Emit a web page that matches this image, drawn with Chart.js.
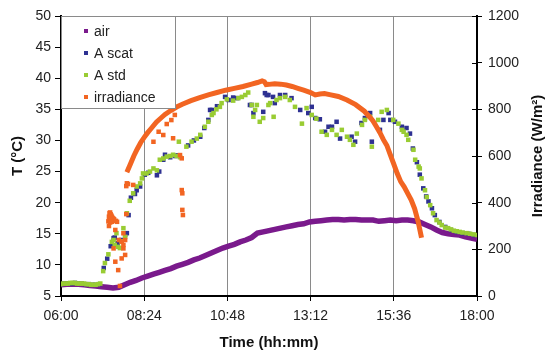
<!DOCTYPE html>
<html>
<head>
<meta charset="utf-8">
<script src="https://cdn.jsdelivr.net/npm/chart.js@4.4.1/dist/chart.umd.min.js"></script>
<style>
  html, body { margin: 0; padding: 0; background: #fff; }
  #wrap { width: 547px; height: 354px; }
</style>
</head>
<body>
<div id="wrap"><canvas id="chart" width="547" height="354"></canvas></div>
<script>
// x tick labels (every 2h24)
const xTickLabels = ["06:00", "08:24", "10:48", "13:12", "15:36", "18:00"];

// air temperature, every 10 min
const airTime = [
  "06:00","06:10","06:20","06:30","06:40","06:50","07:00","07:10","07:20","07:30","07:40","07:50",
  "08:00","08:10","08:20","08:30","08:40","08:50","09:00","09:10","09:20","09:30","09:40","09:50",
  "10:00","10:10","10:20","10:30","10:40","10:50","11:00","11:10","11:20","11:30","11:40","11:50",
  "12:00","12:10","12:20","12:30","12:40","12:50","13:00","13:10","13:20","13:30","13:40","13:50",
  "14:00","14:10","14:20","14:30","14:40","14:50","15:00","15:10","15:20","15:30","15:40","15:50",
  "16:00","16:10","16:20","16:30","16:40","16:50","17:00","17:10","17:20","17:30","17:40","17:50","18:00"
];
const airT = [
  6.8, 6.9, 6.9, 6.9, 6.8, 6.7, 6.6, 6.5, 6.4, 6.3, 6.4, 6.8,
  7.2, 7.5, 7.9, 8.2, 8.5, 8.8, 9.1, 9.4, 9.8, 10.1, 10.4, 10.8,
  11.1, 11.5, 11.9, 12.3, 12.7, 13.0, 13.3, 13.7, 14.0, 14.4, 15.1, 15.3,
  15.5, 15.7, 15.9, 16.1, 16.3, 16.5, 16.6, 16.9, 17.0, 17.1, 17.2, 17.3,
  17.3, 17.2, 17.3, 17.3, 17.2, 17.2, 17.2, 17.0, 17.1, 17.2, 17.1, 17.2,
  17.2, 17.1, 16.9, 16.5, 16.1, 15.6, 15.2, 15.0, 14.9, 14.8, 14.5, 14.3, 14.1
];

// A scat
const scatTime = [
  "06:00","06:06","06:12","06:18","06:24","06:30","06:36","06:42","06:48","06:54","07:00","07:06",
  "07:14","07:20","07:26","07:31","07:33","07:38","07:44","07:51","07:54","07:57","08:01","08:08",
  "08:11","08:17","08:25","08:31","08:46","08:50","08:57","09:00","09:09","09:18","09:22","09:40",
  "09:50","10:01","10:08","10:15","10:18","10:21","10:30","10:44","10:50","10:58","11:05","11:27",
  "11:30","11:33","11:50","11:53","11:56","11:59","12:07","12:10","12:19","12:28","12:39","12:54",
  "13:08","13:14","13:20","13:28","13:37","13:43","13:49","13:57","14:03","14:23","14:29","14:40",
  "14:46","14:55","14:58","15:12","15:18","15:27","15:30","15:38","15:50","15:58","16:04","16:09",
  "16:16","16:21","16:27","16:32","16:36","16:42","16:47","16:55","17:05","17:15","17:25","17:35",
  "17:45","17:55"
];
const scatT = [
  6.9, 7.0, 7.0, 7.0, 7.1, 7.0, 7.0, 6.9, 6.9, 6.8, 6.8, 6.9,
  9.5, 11.0, 13.0, 14.3, 14.4, 13.5, 14.0, 14.8, 15.1, 18.0, 20.8, 21.4,
  22.0, 22.6, 24.5, 24.8, 24.4, 25.0, 26.9, 27.7, 27.3, 27.5, 27.6, 29.2,
  30.0, 30.6, 32.0, 33.3, 34.9, 34.9, 35.5, 37.0, 36.5, 36.9, 36.8, 35.7,
  35.7, 34.4, 34.6, 37.6, 37.3, 37.3, 37.0, 36.0, 37.3, 37.3, 36.8, 34.9,
  34.4, 35.4, 33.6, 33.4, 31.4, 32.2, 32.2, 33.0, 30.3, 30.6, 29.8, 32.8,
  33.6, 34.4, 29.8, 31.7, 33.3, 34.4, 33.3, 33.0, 32.2, 32.0, 31.1, 28.7,
  26.5, 24.5, 22.3, 21.0, 20.2, 19.1, 18.0, 16.9, 16.1, 15.6, 15.3, 15.1,
  15.0, 14.8
];

// A std
const stdTime = [
  "06:00","06:04","06:08","06:12","06:16","06:20","06:24","06:28","06:32","06:36","06:40","06:44",
  "06:48","06:52","06:56","07:00","07:04","07:08","07:13","07:16","07:22","07:28","07:31","07:33",
  "07:36","07:39","07:42","07:45","07:48","07:51","07:54","07:59","08:05","08:11","08:17","08:20",
  "08:22","08:28","08:34","08:40","08:46","08:51","08:57","09:03","09:09","09:14","09:20","09:24",
  "09:26","09:37","09:46","09:55","10:01","10:09","10:15","10:21","10:24","10:29","10:35","10:38",
  "10:47","10:58","11:07","11:13","11:19","11:24","11:30","11:33","11:36","11:39","11:44","11:50",
  "11:59","12:02","12:08","12:13","12:19","12:28","12:36","12:45","12:57","13:05","13:14","13:22",
  "13:31","13:40","13:49","13:57","14:06","14:15","14:20","14:26","14:32","14:41","14:46","14:55",
  "14:58","15:09","15:15","15:24","15:35","15:44","15:50","15:53","15:58","16:01","16:10","16:13",
  "16:19","16:21","16:24","16:30","16:33","16:39","16:44","16:50","16:55","16:59","17:05","17:10",
  "17:15","17:20","17:25","17:30","17:35","17:42","17:48","17:54","18:00"
];
const stdT = [
  6.9, 7.0, 7.0, 7.0, 7.1, 7.1, 7.1, 7.0, 7.0, 7.0, 7.0, 6.9,
  6.9, 6.8, 6.8, 6.8, 6.9, 7.0, 9.0, 10.3, 11.7, 13.7, 14.0, 13.2,
  15.1, 12.9, 12.7, 13.8, 15.9, 14.5, 18.3, 20.3, 21.5, 22.6, 23.1, 23.9,
  24.7, 24.7, 25.0, 25.5, 25.2, 26.9, 27.1, 27.4, 27.5, 27.7, 27.5, 29.8,
  27.3, 29.0, 29.8, 30.3, 30.9, 32.2, 33.0, 34.1, 34.4, 35.0, 35.4, 36.0,
  36.6, 36.4, 36.8, 37.0, 37.3, 37.7, 35.7, 33.8, 34.9, 35.7, 33.0, 33.6,
  35.7, 36.0, 33.8, 36.5, 36.8, 37.0, 36.5, 35.4, 32.7, 35.2, 34.1, 33.5,
  31.4, 30.9, 31.7, 30.9, 31.7, 30.6, 30.1, 29.3, 31.1, 32.5, 33.3, 33.8,
  29.0, 33.3, 34.6, 34.9, 33.3, 32.7, 31.7, 31.4, 30.9, 30.1, 28.5, 26.9,
  25.8, 25.5, 23.9, 22.0, 20.9, 19.6, 18.3, 17.2, 16.8, 16.4, 16.0, 15.9,
  15.7, 15.5, 15.4, 15.3, 15.2, 15.1, 15.0, 14.9, 14.8
];

// irradiance, main curve
const irrTime = [
  "07:54","08:00","08:06","08:12","08:18","08:24","08:30","08:36","08:45","08:54","09:00","09:10",
  "09:20","09:30","09:45","10:00","10:15","10:30","10:45","11:00","11:15","11:30","11:40","11:48",
  "11:52","11:55","12:00","12:10","12:20","12:30","12:40","12:50","13:00","13:12","13:20","13:28",
  "13:36","13:45","14:00","14:15","14:30","14:45","14:55","15:00","15:06","15:12","15:18","15:24",
  "15:30","15:36","15:42","15:48","15:54","16:00","16:06","16:12","16:18","16:24"
];
const irrW = [
  530, 565, 600, 630, 658, 680, 700, 718, 745, 765, 778, 795,
  810, 822, 837, 850, 862, 872, 882, 890, 898, 908, 915, 922,
  918, 906, 907, 910, 908, 904, 898, 890, 882, 872, 862, 866,
  868, 863, 855, 840, 820, 792, 765, 750, 725, 700, 670, 645,
  605, 565, 525, 490, 468, 440, 412, 375, 320, 250
];

// irradiance, scattered readings
const irrPtTime = [
  "07:22","07:23","07:24","07:25","07:26","07:27","07:28","07:29","07:30","07:31","07:32","07:24",
  "07:25","07:26","07:28","07:23","07:35","07:37",
  "07:56","07:53","07:54","08:05","07:34","07:48","07:45","07:31","07:48","07:45","07:34","07:39",
  "07:42","07:53","07:40","07:51","07:48","07:51",
  "08:40","08:49","08:57","09:03","09:11","09:14","09:17","09:26","09:29","09:29","09:30","09:30","09:31"
];
const irrPtW = [
  320, 340, 355, 358, 350, 345, 340, 335, 332, 330, 328, 330,
  315, 325, 318, 300, 322, 318,
  480, 471, 483, 476, 283, 269, 233, 204, 204, 161, 147, 111,
  43, 351, 240, 240, 219, 176,
  661, 704, 690, 737, 754, 676, 776, 604, 590, 454, 440, 369, 347
];

const toHours = s => { const [h, m] = s.split(":").map(Number); return h + m / 60; };
const pts = (times, vals) => times.map((t, i) => ({ x: toHours(t), y: vals[i] }));

const PURPLE = "#7a1a8c", NAVY = "#2e3192", GREEN = "#99cc33", ORANGE = "#f26522";
const FONT = '"Liberation Sans", Arial, sans-serif';

const legendRows = [
  { label: "air", color: PURPLE },
  { label: "A scat", color: NAVY },
  { label: "A std", color: GREEN },
  { label: "irradiance", color: ORANGE }
];

const framePlugin = {
  id: "frame",
  beforeDatasetsDraw(chart) {
    const { ctx, chartArea: a } = chart;
    ctx.save();
    ctx.strokeStyle = "#8a8a8a";
    ctx.lineWidth = 1;
    ctx.beginPath();
    ctx.moveTo(a.left, a.top + 0.5);
    ctx.lineTo(a.right, a.top + 0.5);
    ctx.stroke();
    // inner half of right axis ticks
    const r = chart.scales.y1;
    ctx.strokeStyle = "#000";
    ctx.beginPath();
    r.ticks.forEach(t => {
      const y = Math.round(r.getPixelForValue(t.value)) + 0.5;
      ctx.moveTo(a.right - 5, y);
      ctx.lineTo(a.right, y);
    });
    ctx.stroke();
    // right axis title, reading bottom to top
    ctx.save();
    ctx.translate(538, (a.top + a.bottom) / 2);
    ctx.rotate(-Math.PI / 2);
    ctx.font = "bold 15px " + FONT;
    ctx.fillStyle = "#111";
    ctx.textAlign = "center";
    ctx.textBaseline = "middle";
    ctx.fillText("Irradiance (W/m²)", 0, 0);
    ctx.restore();
    ctx.restore();
  },
  afterDatasetsDraw(chart) {
    const { ctx, chartArea: a } = chart;
    const x0 = a.left, y0 = a.top, w = 114, h = 92;
    ctx.save();
    ctx.fillStyle = "#fff";
    ctx.fillRect(x0, y0, w, h);
    ctx.strokeStyle = "#8a8a8a";
    ctx.lineWidth = 1;
    ctx.strokeRect(x0 + 0.5, y0 + 0.5, w, h);
    ctx.font = "14px " + FONT;
    ctx.textBaseline = "middle";
    legendRows.forEach((row, i) => {
      const y = y0 + 15 + i * 22;
      ctx.fillStyle = row.color;
      ctx.fillRect(x0 + 23, y - 2, 4, 4);
      ctx.fillStyle = "#222";
      ctx.fillText(row.label, x0 + 33, y + 1);
    });
    ctx.restore();
  }
};

Chart.defaults.font.family = FONT;
Chart.defaults.font.size = 14;
Chart.defaults.color = "#222";

new Chart(document.getElementById("chart"), {
  type: "scatter",
  data: {
    datasets: [
      {
        label: "air",
        data: pts(airTime, airT),
        showLine: true,
        borderColor: PURPLE,
        borderWidth: 5.5,
        pointRadius: 0,
        yAxisID: "y",
        order: 4
      },
      {
        label: "A scat",
        data: pts(scatTime, scatT),
        pointStyle: "rect",
        pointRadius: 3.2,
        pointBorderWidth: 0,
        backgroundColor: NAVY,
        borderColor: NAVY,
        yAxisID: "y",
        order: 3
      },
      {
        label: "A std",
        data: pts(stdTime, stdT),
        pointStyle: "rect",
        pointRadius: 3.2,
        pointBorderWidth: 0,
        backgroundColor: GREEN,
        borderColor: GREEN,
        yAxisID: "y",
        order: 2
      },
      {
        label: "irradiance",
        data: pts(irrTime, irrW),
        showLine: true,
        borderColor: ORANGE,
        borderWidth: 5,
        pointRadius: 0,
        yAxisID: "y1",
        order: 1
      },
      {
        label: "irradiance points",
        data: pts(irrPtTime, irrPtW),
        pointStyle: "rect",
        pointRadius: 3.2,
        pointBorderWidth: 0,
        backgroundColor: ORANGE,
        borderColor: ORANGE,
        yAxisID: "y1",
        order: 0
      }
    ]
  },
  options: {
    responsive: false,
    animation: false,
    devicePixelRatio: 1,
    layout: { padding: { top: 16, left: 0, right: 0, bottom: 0 } },
    plugins: {
      legend: { display: false },
      tooltip: { enabled: false }
    },
    scales: {
      x: {
        type: "linear",
        min: 6,
        max: 18,
        afterBuildTicks: s => { s.ticks = xTickLabels.map(l => ({ value: toHours(l) })); },
        afterFit: s => { s.height = 58; },
        ticks: {
          callback: (v, i) => xTickLabels[i],
          padding: 7,
          maxRotation: 0
        },
        grid: { color: "#8a8a8a", lineWidth: 1, drawTicks: true, tickLength: 5, tickColor: "#000" },
        border: { color: "#000", width: 2 },
        title: {
          display: true,
          text: "Time (hh:mm)",
          font: { size: 15, weight: "bold" },
          color: "#111",
          padding: { top: 0, bottom: 2 }
        }
      },
      y: {
        position: "left",
        min: 5,
        max: 50,
        ticks: { stepSize: 5, padding: 4 },
        afterFit: s => { s.width = 61; },
        grid: { drawOnChartArea: false, drawTicks: true, tickLength: 6, tickColor: "#000" },
        border: { color: "#000", width: 2 },
        title: {
          display: true,
          text: "T (°C)",
          font: { size: 15, weight: "bold" },
          color: "#111",
          padding: { top: 9, bottom: 0 }
        }
      },
      y1: {
        position: "right",
        min: 0,
        max: 1200,
        ticks: { stepSize: 200, padding: 6, callback: v => String(v) },
        afterFit: s => { s.width = 70; },
        grid: { drawOnChartArea: false, drawTicks: true, tickLength: 5, tickColor: "#000" },
        border: { color: "#000", width: 2 },
        title: { display: false }
      }
    }
  },
  plugins: [framePlugin]
});
</script>
</body>
</html>
